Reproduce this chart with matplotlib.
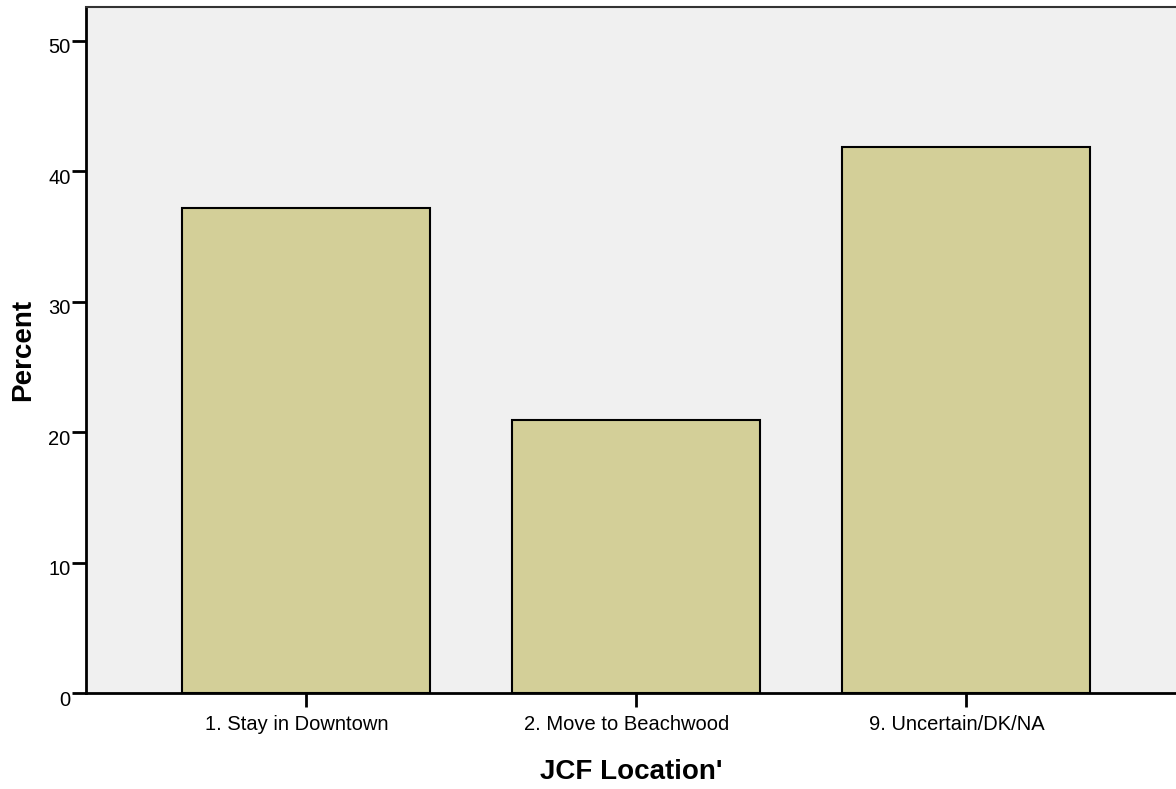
import matplotlib.pyplot as plt
import matplotlib.transforms as mtransforms

categories = ["1. Stay in Downtown", "2. Move to Beachwood", "9. Uncertain/DK/NA"]
percents = [37.2, 20.9, 41.9]
yticks = [0, 10, 20, 30, 40, 50]

plt.rcParams["font.family"] = ["Liberation Sans", "DejaVu Sans"]

fig = plt.figure(figsize=(11.76, 7.89), dpi=100)
ax = fig.add_axes([86 / 1176, 1 - 693 / 789, 1 - 86 / 1176, (693 - 7) / 789])
ax.set_facecolor("#F0F0F0")

x = list(range(len(categories)))
ax.bar(x, percents, width=0.75, color="#D3CF98", edgecolor="black", linewidth=1.5, zorder=2)

ax.set_xlim(-0.667, 2.636)
ax.set_ylim(0, 52.6)
ax.set_xticks(x)
ax.set_xticklabels(categories)
ax.set_yticks(yticks)

ax.tick_params(axis="both", direction="out", length=10, width=2, color="black", labelsize=14.5)
ax.tick_params(axis="y", pad=1)
ax.tick_params(axis="x", pad=6)

# spss puts the y labels a bit below the ticks and the x labels a bit left
yoff = mtransforms.ScaledTranslation(0, -5 / 100, fig.dpi_scale_trans)
for lbl in ax.get_yticklabels():
    lbl.set_transform(lbl.get_transform() + yoff)
xoff = mtransforms.ScaledTranslation(-9 / 100, 0, fig.dpi_scale_trans)
for lbl in ax.get_xticklabels():
    lbl.set_transform(lbl.get_transform() + xoff)

ax.spines["right"].set_visible(False)
ax.spines["left"].set_linewidth(2)
ax.spines["bottom"].set_linewidth(2)
ax.spines["top"].set_linewidth(1.5)
ax.spines["top"].set_color("#333333")

ax.set_ylabel("Percent", fontsize=20, fontweight="bold", labelpad=9)
ax.set_xlabel("JCF Location'", fontsize=20, fontweight="bold", labelpad=18)

fig.savefig("out.png", dpi=100)
